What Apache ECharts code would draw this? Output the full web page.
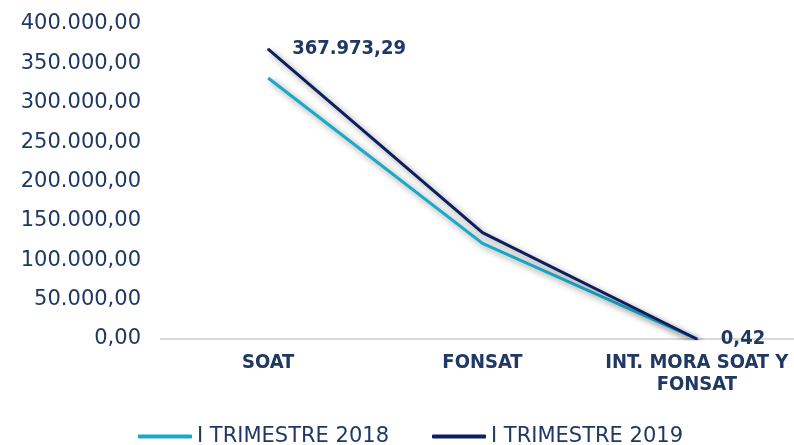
<!DOCTYPE html>
<html>
<head>
<meta charset="utf-8">
<script src="https://cdn.jsdelivr.net/npm/echarts@6/dist/echarts.min.js"></script>
<style>html,body{margin:0;padding:0;background:#fff}#c{width:794px;height:445px}</style>
</head>
<body>
<div id="c"></div>
<script>
const categories = ['SOAT', 'FONSAT', 'INT. MORA SOAT Y\nFONSAT'];
const seriesNames = ['I TRIMESTRE 2018', 'I TRIMESTRE 2019'];
const values2018 = [331500, 121500, 0.3];
const values2019 = [367973.29, 135000, 0.42];
const labelledPoints2019 = [0, 2];
const yTicks = { min: 0, max: 400000, interval: 50000 };

const textColor = '#1F3864';
const condBold = "'DejaVu Sans Condensed', 'DejaVu Sans', sans-serif";

function fmtEs(v, dec) {
  const parts = Number(v).toFixed(dec).split('.');
  parts[0] = parts[0].replace(/\B(?=(\d{3})+(?!\d))/g, '.');
  return parts.join(',');
}

const shadow = { shadowColor: 'rgba(0,0,0,0.45)', shadowBlur: 6, shadowOffsetX: 3, shadowOffsetY: 3 };

const chart = echarts.init(document.getElementById('c'), null, { renderer: 'canvas' });
chart.setOption({
  animation: false,
  backgroundColor: '#fff',
  grid: { left: 161, width: 643, top: 24, bottom: 106, containLabel: false, outerBoundsMode: 'none' },
  legend: {
    left: 138, top: 426, padding: 0,
    itemWidth: 54, itemHeight: 4, itemGap: 43,
    icon: 'roundRect',
    textStyle: { fontFamily: "'DejaVu Sans', Verdana, sans-serif", fontSize: 21, color: textColor },
    data: seriesNames
  },
  xAxis: {
    type: 'category',
    data: categories,
    boundaryGap: true,
    axisLine: { lineStyle: { color: '#D9D9D9', width: 2 } },
    axisTick: { show: false },
    axisLabel: {
      interval: 0,
      margin: 13,
      color: textColor,
      fontFamily: condBold,
      fontWeight: 'bold',
      fontSize: 20,
      lineHeight: 22
    }
  },
  yAxis: {
    type: 'value',
    min: yTicks.min, max: yTicks.max, interval: yTicks.interval,
    axisLine: { show: false },
    axisTick: { show: false },
    splitLine: { show: false },
    axisLabel: {
      margin: 20,
      color: textColor,
      fontFamily: "'DejaVu Sans', Verdana, sans-serif",
      fontSize: 21,
      formatter: v => fmtEs(v, 2)
    }
  },
  series: [
    {
      name: seriesNames[0],
      type: 'line',
      data: values2018,
      showSymbol: false,
      symbol: 'none',
      itemStyle: { color: '#17AACA' },
      lineStyle: Object.assign({ color: '#17AACA', width: 3 }, shadow),
      z: 2
    },
    {
      name: seriesNames[1],
      type: 'line',
      data: values2019.map((v, i) => ({
        value: v,
        label: {
          show: labelledPoints2019.includes(i),
          position: 'right',
          distance: 23,
          formatter: p => fmtEs(p.value, 2),
          color: textColor,
          fontFamily: condBold,
          fontWeight: 'bold',
          fontSize: 20
        }
      })),
      showSymbol: true,
      symbol: 'circle',
      symbolSize: 2,
      itemStyle: { color: '#0C1F5E' },
      lineStyle: Object.assign({ color: '#0C1F5E', width: 3 }, shadow),
      z: 3
    }
  ]
});
</script>
</body>
</html>
